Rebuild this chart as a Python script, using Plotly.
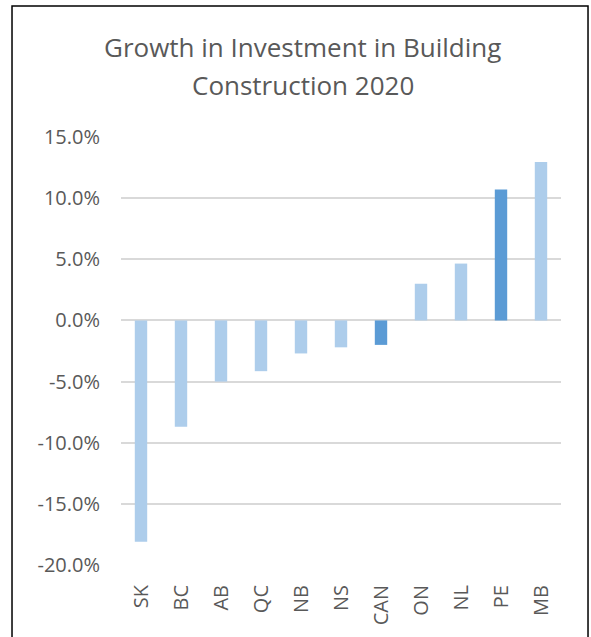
import plotly.graph_objects as go

regions = ['SK', 'BC', 'AB', 'QC', 'NB', 'NS', 'CAN', 'ON', 'NL', 'PE', 'MB']
growth = [-18.1, -8.7, -5.0, -4.15, -2.7, -2.2, -2.0, 3.0, 4.65, 10.7, 12.95]
highlight = ['CAN', 'PE']

y_ticks = [-20, -15, -10, -5, 0, 5, 10, 15]
y_labels = ['-20.0%', '-15.0%', '-10.0%', '-5.0%', '0.0%', '5.0%', '10.0%', '15.0%']

light = '#ADCDEB'
dark = '#5B9BD5'
colors = [dark if r in highlight else light for r in regions]

fig = go.Figure(go.Bar(
    x=regions, y=growth,
    marker=dict(color=colors, line=dict(width=0)),
    width=0.31,
))

fig.update_layout(
    width=591, height=637,
    paper_bgcolor='white', plot_bgcolor='white',
    margin=dict(l=121, r=30, t=137, b=72),
    font=dict(family='Open Sans', color='#595959'),
    showlegend=False,
)
# two-line title, placed line by line to get Excel-like line spacing
fig.add_annotation(text='Growth in Investment in Building', xref='paper', yref='paper',
                   x=0.4136, y=1.2103, xanchor='center', yanchor='middle',
                   showarrow=False, font=dict(size=26, color='#595959'))
fig.add_annotation(text='Construction 2020', xref='paper', yref='paper',
                   x=0.4136, y=1.1215, xanchor='center', yanchor='middle',
                   showarrow=False, font=dict(size=26, color='#595959'))

fig.update_yaxes(range=[-20, 15], tickvals=y_ticks, ticktext=y_labels,
                 showgrid=True, gridcolor='#D9D9D9', gridwidth=1.8,
                 zeroline=True, zerolinecolor='#D9D9D9', zerolinewidth=1.8,
                 showline=False, ticks='', tickfont=dict(size=20),
                 ticklabelstandoff=20)
fig.update_xaxes(showline=False, ticks='', tickangle=-90,
                 tickfont=dict(size=20), ticklabelstandoff=15)

# outer frame of the chart
fig.add_shape(type='rect', xref='paper', yref='paper',
              x0=-0.2477, x1=1.0614, y0=-0.3, y1=1.306,
              line=dict(color='black', width=1.5), layer='above')

fig.write_html('out.html', config={'displayModeBar': False},
               post_script="document.body.style.margin='0';")
